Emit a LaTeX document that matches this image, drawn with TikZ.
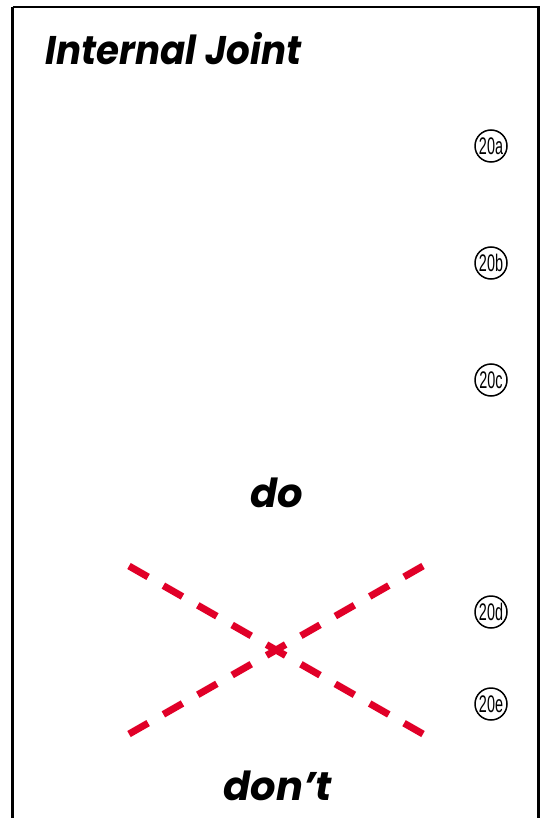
\documentclass[tikz,border=0pt]{standalone}
\usepackage{fontspec}
\setmainfont{Liberation Sans}
\newfontfamily\headfont{Poppins}
\definecolor{crossred}{RGB}{225,0,40}
\tikzset{
  frame/.style={line width=2.2pt, draw=black},
  heading/.style={font=\headfont\bfseries\itshape\fontsize{40}{40}\selectfont, inner sep=0pt},
  callout/.style={circle, draw=black, line width=1.5pt, minimum size=32pt, inner sep=0pt,
    font=\fontsize{24}{24}\selectfont},
  crossline/.style={draw=crossred, line width=7pt, dash pattern=on 22pt off 17.6pt}
}
\newcommand{\cond}[1]{\scalebox{0.6}[1]{#1}}
\newcommand{\narrowhead}[1]{\scalebox{0.93}[1]{#1}}
\begin{document}
\begin{tikzpicture}[x=1pt,y=-1pt]
\useasboundingbox (0,0) rectangle (547,818);
\draw[frame] (12.5,7) -- (538.5,7) -- (538.5,830) (12.5,7) -- (12.5,830);
\node[heading, anchor=base west] (title) at (45,65) {\narrowhead{Internal Joint}};
\node[callout] (c20a) at (491,146) {\cond{20a}};
\node[callout] (c20b) at (491,263) {\cond{20b}};
\node[callout] (c20c) at (491,380) {\cond{20c}};
\node[callout] (c20d) at (491,612) {\cond{20d}};
\node[callout] (c20e) at (491,704) {\cond{20e}};
\node[heading, anchor=base] (do) at (277,507) {do};
\node[heading, anchor=base] (dont) at (278,800) {don’t};
\coordinate (tl) at (129,566);
\coordinate (br) at (423,734);
\coordinate (bl) at (129,734);
\coordinate (tr) at (423,566);
\draw[crossline] (tl) -- (br);
\draw[crossline] (bl) -- (tr);
\end{tikzpicture}
\end{document}
